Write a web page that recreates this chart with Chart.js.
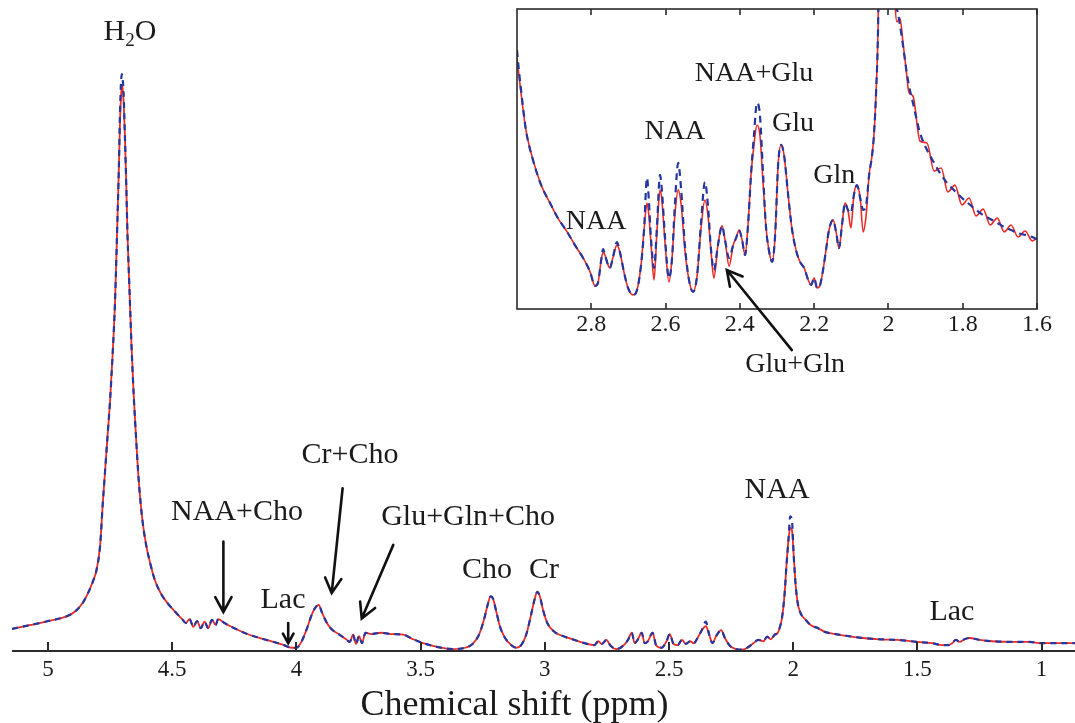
<!DOCTYPE html>
<html>
<head>
<meta charset="utf-8">
<script src="https://cdn.jsdelivr.net/npm/chart.js@4.4.1/dist/chart.umd.min.js"></script>
<style>
  html, body { margin: 0; padding: 0; background: #fff; }
  #wrap { position: relative; width: 1075px; height: 723px; overflow: hidden; background: #fff; }
  #spectrum { position: absolute; left: 0; top: 0; }
  #zoom { position: absolute; left: 505px; top: 0; }
</style>
</head>
<body>
<div id="wrap">
  <canvas id="spectrum" width="1075" height="723"></canvas>
  <canvas id="zoom" width="570" height="390"></canvas>
</div>
<script>
const SERIF = "'Liberation Serif', 'Times New Roman', serif";
const RED = '#ec2b25';
const BLUE = '#2636a0';
const INK = '#1b1b1b';

// ---- full spectrum (ppm, intensity a.u.)
const ppm = [
  5.145,5.07,5.0,4.92,4.89,4.86,4.84,4.82,4.805,4.79,
  4.78,4.77,4.76,4.75,4.74,4.73,4.72,4.715,4.71,4.706,
  4.703,4.70,4.696,4.69,4.685,4.68,4.672,4.664,4.655,4.645,
  4.635,4.62,4.605,4.59,4.57,4.545,4.52,4.49,4.46,4.445,
  4.43,4.415,4.40,4.385,4.37,4.355,4.34,4.325,4.315,4.29,
  4.25,4.19,4.12,4.05,4.02,4.00,3.98,3.96,3.94,3.925,
  3.91,3.898,3.88,3.86,3.83,3.80,3.785,3.772,3.76,3.748,
  3.736,3.722,3.70,3.66,3.62,3.57,3.53,3.49,3.43,3.37,
  3.32,3.29,3.265,3.245,3.23,3.218,3.208,3.195,3.18,3.16,
  3.135,3.115,3.095,3.075,3.058,3.042,3.03,3.02,3.007,2.99,
  2.96,2.92,2.88,2.84,2.80,2.785,2.77,2.752,2.735,2.71,
  2.685,2.665,2.65,2.638,2.625,2.61,2.598,2.585,2.566,2.552,
  2.53,2.51,2.497,2.482,2.465,2.448,2.432,2.415,2.40,2.385,
  2.368,2.352,2.338,2.325,2.31,2.29,2.275,2.255,2.23,2.205,
  2.185,2.16,2.14,2.12,2.105,2.09,2.075,2.062,2.055,2.045,
  2.035,2.027,2.019,2.012,2.005,1.998,1.99,1.982,1.97,1.95,
  1.93,1.90,1.87,1.83,1.78,1.72,1.65,1.58,1.50,1.44,
  1.40,1.375,1.36,1.345,1.33,1.31,1.29,1.25,1.20,1.12,
  1.05,1.00,0.93,0.8655
];
const specRed = [
  3.4,4.0,4.6,5.4,6.1,7.4,8.8,10.6,12.4,16.3,
  22.4,27.8,33.2,38.6,45.5,53.9,67.0,73.9,81.6,85.3,
  86.8,86.5,84.6,78.5,71.6,63.9,55.5,47.0,39.3,32.4,
  26.3,20.1,16.3,13.7,10.9,8.8,7.4,6.1,4.9,4.3,
  4.9,3.7,4.6,3.5,4.5,3.5,4.8,4.0,4.9,4.3,
  3.5,2.5,1.7,0.9,0.5,0.5,1.4,3.2,5.4,6.6,
  7.1,6.0,4.5,3.4,2.6,1.8,1.4,2.5,1.1,2.3,
  1.2,2.8,2.6,2.8,2.6,2.5,1.8,1.2,0.6,0.3,
  0.5,1.1,2.5,4.8,7.1,8.4,8.0,6.0,3.7,2.0,
  0.9,0.5,0.9,2.5,5.1,7.8,9.1,8.4,6.3,4.3,
  2.9,2.2,1.7,1.2,0.9,1.5,1.1,1.7,0.8,0.3,
  0.8,1.7,2.8,1.2,1.8,2.8,1.2,1.5,2.8,0.9,
  0.5,1.5,2.6,1.1,0.9,1.7,1.1,1.5,1.2,2.0,
  3.2,3.8,2.5,1.2,2.3,3.2,2.0,0.8,0.3,0.2,
  0.5,1.2,1.7,1.5,2.2,1.8,2.5,2.8,3.5,5.1,
  8.6,13.2,17.1,18.9,18.6,14.7,10.1,7.4,5.8,4.8,
  4.0,3.5,2.9,2.6,2.3,2.0,1.8,1.7,1.4,1.2,
  0.9,0.9,1.2,1.7,1.4,1.8,2.0,1.7,1.5,1.4,
  1.4,1.2,1.2,1.2
];
const specBlue = [
  3.4,4.0,4.6,5.4,6.1,7.4,8.8,10.6,12.4,16.3,
  22.4,27.8,33.2,38.6,45.5,53.9,67.0,73.9,83.0,87.4,
  88.6,88.0,86.0,78.5,71.6,63.9,55.5,47.0,39.3,32.4,
  26.3,20.1,16.3,13.7,10.9,8.8,7.4,6.1,4.9,4.3,
  4.9,3.7,4.6,3.5,4.5,3.5,4.8,4.0,4.9,4.3,
  3.5,2.5,1.7,0.9,0.5,0.5,1.4,3.2,5.4,6.6,
  7.1,6.0,4.5,3.4,2.6,1.8,1.4,2.5,1.1,2.3,
  1.2,2.8,2.6,2.8,2.6,2.5,1.8,1.2,0.6,0.3,
  0.5,1.1,2.5,4.8,7.1,8.4,8.0,6.0,3.7,2.0,
  0.9,0.5,0.9,2.5,5.1,7.8,9.1,8.4,6.3,4.3,
  2.9,2.2,1.7,1.2,0.9,1.5,1.1,1.7,0.8,0.3,
  0.8,1.7,2.8,1.2,1.8,2.8,1.2,1.5,2.8,0.9,
  0.5,1.5,2.6,1.1,0.9,1.7,1.1,1.5,1.2,2.0,
  3.2,4.5,2.5,1.2,2.3,3.2,2.0,0.8,0.3,0.2,
  0.5,1.2,1.7,1.5,2.2,1.8,2.5,2.8,3.5,5.1,
  8.6,13.2,17.1,20.7,20.1,14.7,10.1,7.4,5.8,4.8,
  4.0,3.5,2.9,2.6,2.3,2.0,1.8,1.7,1.4,1.2,
  0.9,0.9,1.2,1.7,1.4,1.8,2.0,1.7,1.5,1.4,
  1.4,1.2,1.2,1.2
];
const ppmTicks = [5, 4.5, 4, 3.5, 3, 2.5, 2, 1.5, 1];

// ---- 1.6 - 3.0 ppm close-up
const zoomPpm = [
  3.000,2.995,2.987,2.976,2.957,2.935,2.911,2.890,2.865,2.844,
  2.822,2.803,2.790,2.782,2.774,2.768,2.763,2.755,2.750,2.742,
  2.731,2.723,2.712,2.701,2.688,2.677,2.666,2.658,2.650,2.645,
  2.639,2.631,2.623,2.615,2.610,2.601,2.591,2.583,2.575,2.566,
  2.558,2.548,2.537,2.526,2.515,2.505,2.494,2.486,2.478,2.470,
  2.459,2.448,2.440,2.429,2.418,2.410,2.402,2.394,2.386,2.378,
  2.370,2.362,2.354,2.346,2.338,2.330,2.321,2.313,2.305,2.297,
  2.289,2.281,2.270,2.260,2.249,2.238,2.227,2.216,2.208,2.200,
  2.192,2.184,2.176,2.168,2.160,2.149,2.141,2.133,2.125,2.117,
  2.109,2.101,2.093,2.085,2.076,2.068,2.060,2.052,2.044,2.039,
  2.033,2.028,2.023,2.009,1.993,1.982,1.977,1.969,1.961,1.953,
  1.945,1.934,1.915,1.896,1.877,1.858,1.840,1.821,1.802,1.783,
  1.764,1.745,1.726,1.707,1.688,1.670,1.651,1.632,1.613,1.600
];
const zoomRed = [
  83.7,78.0,69.7,59.7,49.7,41.3,35.3,30.3,25.7,21.3,
  17.0,12.3,7.7,8.7,15.7,19.0,18.0,14.7,13.7,17.0,
  21.3,19.0,12.3,7.0,4.7,6.3,14.7,26.3,35.3,31.3,
  21.3,9.7,26.3,39.7,36.3,21.3,9.0,16.3,31.3,39.7,
  34.7,19.7,9.7,5.7,11.3,26.3,36.3,31.3,19.7,10.3,
  21.3,27.7,23.0,14.3,21.3,23.7,26.3,23.0,18.0,28.0,
  44.7,54.7,61.3,58.0,43.0,28.0,19.0,15.7,24.7,48.0,
  54.7,51.3,38.0,27.0,19.7,15.7,13.7,9.7,8.0,10.3,
  7.0,8.0,13.0,19.7,26.3,29.7,25.7,20.3,28.0,35.3,
  33.0,27.0,38.0,41.3,37.0,25.7,31.3,44.7,51.3,58.0,
  73.0,93.0,140,330,140,101.3,95.7,97.0,89.0,80.7,
  72.3,71.0,56.0,55.3,46.0,47.0,39.0,41.3,34.7,37.0,
  31.0,33.3,28.0,30.3,25.7,28.0,24.0,26.0,22.7,23.7
];
const zoomBlue = [
  86.3,79.7,70.7,59.7,49.7,41.3,35.3,30.3,25.7,21.3,
  17.0,12.3,7.7,8.7,15.7,20.0,18.0,14.7,13.7,17.0,
  22.3,19.0,12.3,7.0,4.7,6.3,14.7,26.3,43.7,36.3,
  23.0,13.7,28.0,44.7,39.7,23.0,10.3,16.3,34.7,48.7,
  39.7,21.3,9.7,5.7,11.3,28.0,42.3,34.7,20.3,13.0,
  21.3,27.7,23.0,17.0,21.3,23.7,26.3,23.0,18.0,28.0,
  44.7,58.0,68.7,64.7,46.3,28.0,19.0,15.7,24.7,48.0,
  54.7,51.3,38.0,27.0,19.7,15.7,13.7,9.7,8.0,10.3,
  7.0,8.0,13.0,19.7,26.3,29.7,25.7,20.3,28.0,35.3,
  33.0,32.0,38.0,41.3,37.0,33.0,34.7,44.7,51.3,58.0,
  73.0,93.0,140,330,140,101.3,99.7,94.7,88.0,80.7,
  74.7,68.7,58.7,53.0,48.7,44.7,41.7,39.3,37.0,35.0,
  33.0,31.3,30.0,28.7,27.3,26.3,25.3,24.7,24.0,23.3
];
const zoomTicks = [2.8, 2.6, 2.4, 2.2, 2, 1.8, 1.6];

// peak assignments, placed in data units
const peakNotes = [
  { parts: [['H'], ['2', true], ['O']], ppm: 4.67, y: 95.1 },
  { text: 'NAA+Cho', ppm: 4.239, y: 21.4 },
  { text: 'Lac', ppm: 4.054, y: 7.8 },
  { text: 'Cr+Cho', ppm: 3.784, y: 30.1 },
  { text: 'Glu+Gln+Cho', ppm: 3.309, y: 20.6 },
  { text: 'Cho', ppm: 3.233, y: 12.4 },
  { text: 'Cr', ppm: 3.003, y: 12.4 },
  { text: 'NAA', ppm: 2.065, y: 24.7 },
  { text: 'Lac', ppm: 1.361, y: 6.0 }
];
const peakArrows = [
  { from: [4.294, 16.8], to: [4.294, 6.0], head: 17 },
  { from: [4.033, 4.3], to: [4.033, 1.2], head: 11 },
  { from: [3.814, 25.0], to: [3.858, 8.9], head: 17 },
  { from: [3.610, 16.3], to: [3.737, 5.0], head: 17 }
];
const zoomNotes = [
  { text: 'NAA', ppm: 2.787, y: 29 },
  { text: 'NAA', ppm: 2.575, y: 59 },
  { text: 'NAA+Glu', ppm: 2.362, y: 78.3 },
  { text: 'Glu', ppm: 2.257, y: 61.7 },
  { text: 'Gln', ppm: 2.146, y: 44.3 },
  { text: 'Glu+Gln', ppm: 2.251, y: -18.7 }
];
const zoomArrows = [
  { from: [2.260, -13.7], to: [2.435, 13], head: 17 }
];

const pts = (xs, ys) => xs.map((x, i) => ({ x, y: ys[i] }));

function drawArrow(ctx, x0, y0, x1, y1, head){
  const a = Math.atan2(y1 - y0, x1 - x0);
  ctx.beginPath();
  ctx.moveTo(x0, y0); ctx.lineTo(x1, y1);
  ctx.moveTo(x1 - head * Math.cos(a - 0.5), y1 - head * Math.sin(a - 0.5));
  ctx.lineTo(x1, y1);
  ctx.lineTo(x1 - head * Math.cos(a + 0.5), y1 - head * Math.sin(a + 0.5));
  ctx.stroke();
}

function drawNote(ctx, n, px, py, size){
  ctx.textBaseline = 'middle';
  if(!n.parts){
    ctx.font = `${size}px ${SERIF}`;
    ctx.textAlign = 'center';
    ctx.fillText(n.text, px, py);
    return;
  }
  // text with subscripts (H2O)
  const subSize = Math.round(size * 0.62);
  const w = n.parts.reduce((s, [t, sub]) => {
    ctx.font = `${sub ? subSize : size}px ${SERIF}`;
    return s + ctx.measureText(t).width;
  }, 0);
  let cx = px - w / 2;
  ctx.textAlign = 'left';
  n.parts.forEach(([t, sub]) => {
    ctx.font = `${sub ? subSize : size}px ${SERIF}`;
    ctx.fillText(t, cx, sub ? py + size * 0.3 : py);
    cx += ctx.measureText(t).width;
  });
}

function annotate(chart, notes, arrows, size){
  const { ctx, scales: { x, y } } = chart;
  ctx.fillStyle = INK;
  ctx.strokeStyle = '#111';
  ctx.lineWidth = 2.6;
  ctx.lineCap = 'round';
  notes.forEach(n => drawNote(ctx, n, x.getPixelForValue(n.ppm), y.getPixelForValue(n.y), size));
  arrows.forEach(r => drawArrow(ctx,
    x.getPixelForValue(r.from[0]), y.getPixelForValue(r.from[1]),
    x.getPixelForValue(r.to[0]), y.getPixelForValue(r.to[1]), r.head));
}

function axisOptions(min, max, ticks, fontSize, pad, height){
  return {
    type: 'linear', reverse: true, min, max,
    afterBuildTicks: s => { s.ticks = ticks.map(v => ({ value: v })); },
    afterFit: s => { s.height = height; },
    grid: { display: false, drawTicks: false },
    border: { display: false },
    ticks: {
      callback: v => String(v), autoSkip: false, maxRotation: 0,
      font: { family: SERIF, size: fontSize }, color: INK, padding: pad
    }
  };
}

function traces(xs, red, blue, wRed, wBlue, dash){
  return [
    { data: pts(xs, blue), borderColor: BLUE, borderWidth: wBlue, borderDash: dash,
      pointRadius: 0, cubicInterpolationMode: 'monotone', order: 0 },
    { data: pts(xs, red), borderColor: RED, borderWidth: wRed,
      pointRadius: 0, cubicInterpolationMode: 'monotone', order: 1 }
  ];
}

const common = {
  responsive: false, animation: false, events: [],
  plugins: { legend: { display: false }, tooltip: { enabled: false } }
};

// main spectrum: bottom axis with inward ticks, no y axis
new Chart(document.getElementById('spectrum'), {
  type: 'line',
  data: { datasets: traces(ppm, specRed, specBlue, 1.8, 2.2, [6, 5]) },
  options: {
    ...common,
    layout: { padding: { left: 12, right: 0, top: 0, bottom: 0 } },
    scales: {
      x: axisOptions(0.8655, 5.145, ppmTicks, 23, 5, 72),
      y: { display: false, min: 0, max: 100 }
    }
  },
  plugins: [{
    id: 'spectrumDecor',
    afterDraw(chart){
      const { ctx, chartArea: a, scales: { x } } = chart;
      ctx.save();
      ctx.strokeStyle = '#2b2b2b';
      ctx.lineWidth = 2;
      ctx.beginPath();
      ctx.moveTo(a.left, a.bottom); ctx.lineTo(a.right, a.bottom);
      ppmTicks.forEach(v => {
        const px = Math.round(x.getPixelForValue(v));
        ctx.moveTo(px, a.bottom); ctx.lineTo(px, a.bottom - 9);
      });
      ctx.stroke();
      ctx.fillStyle = INK;
      ctx.font = `36px ${SERIF}`;
      ctx.textAlign = 'center';
      ctx.textBaseline = 'alphabetic';
      ctx.fillText('Chemical shift (ppm)', (a.left + a.right) / 2 - 29, 715);
      annotate(chart, peakNotes, peakArrows, 30);
      ctx.restore();
    }
  }]
});

// close-up panel: boxed, ticks inward on top and bottom
new Chart(document.getElementById('zoom'), {
  type: 'line',
  data: { datasets: traces(zoomPpm, zoomRed, zoomBlue, 1.6, 2.2, [7, 5]) },
  options: {
    ...common,
    layout: { padding: { left: 12, right: 38, top: 9, bottom: 51 } },
    scales: {
      x: axisOptions(1.6, 3.0, zoomTicks, 24, 1, 30),
      y: { display: false, min: 0, max: 100 }
    }
  },
  plugins: [{
    id: 'zoomDecor',
    afterDraw(chart){
      const { ctx, chartArea: a, scales: { x } } = chart;
      ctx.save();
      ctx.strokeStyle = '#2b2b2b';
      ctx.lineWidth = 1.6;
      ctx.strokeRect(a.left, a.top, a.right - a.left, a.bottom - a.top);
      ctx.beginPath();
      zoomTicks.forEach(v => {
        const px = Math.round(x.getPixelForValue(v));
        ctx.moveTo(px, a.bottom); ctx.lineTo(px, a.bottom - 6);
        ctx.moveTo(px, a.top); ctx.lineTo(px, a.top + 6);
      });
      ctx.stroke();
      annotate(chart, zoomNotes, zoomArrows, 28);
      ctx.restore();
    }
  }]
});
</script>
</body>
</html>
